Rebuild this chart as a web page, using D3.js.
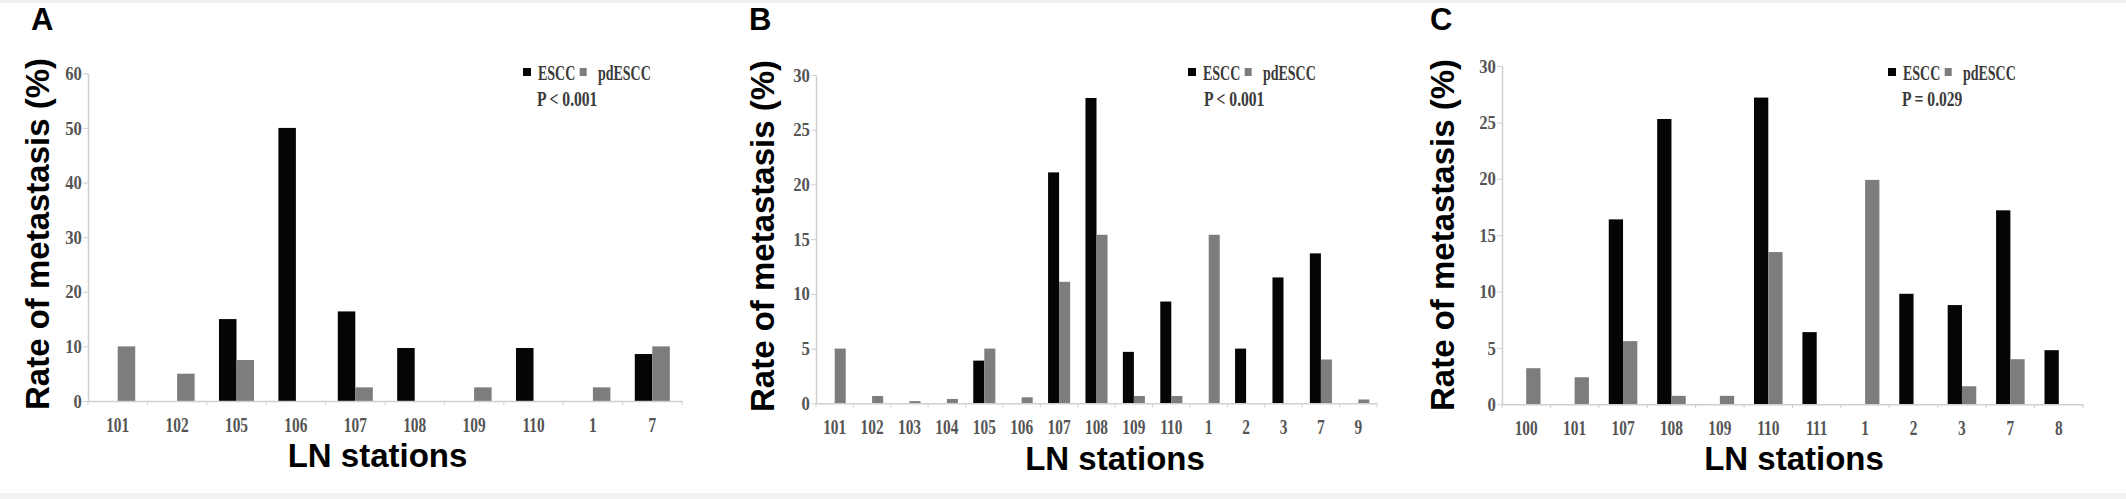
<!DOCTYPE html>
<html>
<head>
<meta charset="utf-8">
<script src="https://cdn.jsdelivr.net/npm/d3@7"></script>
<style>
  html, body { margin: 0; padding: 0; background: #ffffff; }
  svg { display: block; }
</style>
</head>
<body>
<svg id="chart" width="2126" height="499"></svg>
<script>
// ---------------- DATA ----------------
const seriesNames = ["ESCC", "pdESCC"];

const catsA = ["101","102","105","106","107","108","109","110","1","7"];
const escccA = [0, 0, 15, 50, 16.4, 9.7, 0, 9.7, 0, 8.6];
const pdA    = [10, 5, 7.5, 0, 2.5, 0, 2.5, 0, 2.5, 10];
const yTicksA = [0, 10, 20, 30, 40, 50, 60];
const pLabelA = "P < 0.001";

const catsB = ["101","102","103","104","105","106","107","108","109","110","1","2","3","7","9"];
const escccB = [0, 0, 0, 0, 3.9, 0, 21.1, 27.9, 4.7, 9.3, 0, 5, 11.5, 13.7, 0];
const pdB    = [5, 0.67, 0.2, 0.4, 5, 0.55, 11.1, 15.4, 0.67, 0.67, 15.4, 0, 0, 4, 0.35];
const yTicksB = [0, 5, 10, 15, 20, 25, 30];
const pLabelB = "P < 0.001";

const catsC = ["100","101","107","108","109","110","111","1","2","3","7","8"];
const escccC = [0, 0, 16.4, 25.3, 0, 27.2, 6.4, 0, 9.8, 8.8, 17.2, 4.8];
const pdC    = [3.2, 2.4, 5.6, 0.75, 0.75, 13.5, 0, 19.9, 0, 1.6, 4, 0];
const yTicksC = [0, 5, 10, 15, 20, 25, 30];
const pLabelC = "P = 0.029";

const xTitle = "LN stations";
const yTitle = "Rate of metastasis (%)";

// ---------------- LAYOUT ----------------
const panels = [
  { letter: "A", cats: catsA, esc: escccA, pd: pdA, ticks: yTicksA, p: pLabelA,
    x0: 88, x1: 682, y0: 401, yTop: 73.3,
    letterX: 31, yTitleX: 49, yTitleY: 234, xTitleX: 377.5, xTitleY: 467,
    legX: 523, legPX: 537 },
  { letter: "B", cats: catsB, esc: escccB, pd: pdB, ticks: yTicksB, p: pLabelB,
    x0: 816, x1: 1377, y0: 403.3, yTop: 75,
    letterX: 749, yTitleX: 773.5, yTitleY: 236, xTitleX: 1115, xTitleY: 470,
    legX: 1188, legPX: 1204 },
  { letter: "C", cats: catsC, esc: escccC, pd: pdC, ticks: yTicksC, p: pLabelC,
    x0: 1502, x1: 2083, y0: 404.3, yTop: 66,
    letterX: 1430, yTitleX: 1453.5, yTitleY: 235, xTitleX: 1794, xTitleY: 470,
    legX: 1888, legPX: 1902 }
];

const colors = { ESCC: "#050505", pdESCC: "#7d7d7d" };
const axisColor = "#cfcfcf";
const tickTextColor = "#555555";
const serif = "'Liberation Serif', 'Times New Roman', serif";
const sans = "'Liberation Sans', Arial, Helvetica, sans-serif";

const svg = d3.select("#chart");

// background and faint frame bands
svg.append("rect").attr("x", 0).attr("y", 0).attr("width", 2126).attr("height", 499).attr("fill", "#ffffff");
svg.append("rect").attr("x", 0).attr("y", 0).attr("width", 2126).attr("height", 3).attr("fill", "#f1f1f1");
svg.append("rect").attr("x", 0).attr("y", 493).attr("width", 2126).attr("height", 6).attr("fill", "#f2f2f2");

panels.forEach(P => {
  const g = svg.append("g");

  const x = d3.scaleBand().domain(P.cats).range([P.x0, P.x1]).paddingInner(0).paddingOuter(0);
  const bw = x.bandwidth();
  const xs = d3.scaleBand().domain(seriesNames).range([0.205 * bw, 0.795 * bw]).padding(0);
  const y = d3.scaleLinear().domain([0, d3.max(P.ticks)]).range([P.y0, P.yTop]);

  // bars
  const rows = P.cats.map((c, i) => ({ cat: c, ESCC: P.esc[i], pdESCC: P.pd[i] }));
  const grp = g.selectAll("g.cat").data(rows).join("g")
    .attr("transform", d => `translate(${x(d.cat)},0)`);
  grp.selectAll("rect").data(d => seriesNames.map(s => ({ s, v: d[s] })).filter(e => e.v > 0))
    .join("rect")
    .attr("x", e => xs(e.s))
    .attr("width", xs.bandwidth())
    .attr("y", e => y(e.v))
    .attr("height", e => y(0) - y(e.v))
    .attr("fill", e => colors[e.s]);

  // y axis
  const yAxis = d3.axisLeft(y).tickValues(P.ticks).tickSize(5).tickSizeOuter(0).tickPadding(2);
  const ya = g.append("g").attr("transform", `translate(${P.x0},0)`).call(yAxis);
  ya.select(".domain").attr("stroke", axisColor).attr("stroke-width", 1.5);
  ya.selectAll(".tick line").attr("stroke", axisColor).attr("stroke-width", 1);
  ya.selectAll(".tick text")
    .attr("fill", tickTextColor)
    .style("font-family", serif).style("font-size", "19px").style("font-weight", "bold")
    .attr("transform", "scale(0.88,1)");

  // x axis
  const xAxis = d3.axisBottom(x).tickSize(0).tickSizeOuter(0).tickPadding(15.5);
  const xa = g.append("g").attr("transform", `translate(0,${P.y0})`).call(xAxis);
  xa.select(".domain").attr("stroke", axisColor).attr("stroke-width", 1.5);
  xa.selectAll(".tick text")
    .attr("fill", tickTextColor)
    .style("font-family", serif).style("font-size", "22px").style("font-weight", "bold")
    .attr("transform", "scale(0.7,1)");

  // boundary tick marks on x axis
  const bounds = P.cats.map(c => x(c)).concat([x.range()[1]]);
  g.selectAll("line.bt").data(bounds).join("line")
    .attr("x1", d => d).attr("x2", d => d)
    .attr("y1", P.y0).attr("y2", P.y0 + 4)
    .attr("stroke", axisColor).attr("stroke-width", 1);

  // legend
  const leg = g.append("g").attr("transform", `translate(${P.legX},0) scale(0.7,1)`);
  leg.append("rect").attr("x", 0).attr("y", 68).attr("width", 11.4).attr("height", 8).attr("fill", colors.ESCC);
  leg.append("text").attr("x", 21.4).attr("y", 80).text(seriesNames[0]);
  leg.append("rect").attr("x", 81).attr("y", 68).attr("width", 10).attr("height", 8).attr("fill", colors.pdESCC);
  leg.append("text").attr("x", 107).attr("y", 80).text(seriesNames[1]);
  leg.selectAll("text")
    .attr("fill", "#3a3a3a")
    .style("font-family", serif).style("font-size", "20px").style("font-weight", "bold");

  const pg = g.append("g").attr("transform", `translate(${P.legPX},0) scale(0.78,1)`);
  pg.append("text").attr("x", 0).attr("y", 106).text(P.p)
    .attr("fill", "#3a3a3a")
    .style("font-family", serif).style("font-size", "20px").style("font-weight", "bold");

  // panel letter
  g.append("text").attr("x", P.letterX).attr("y", 30).text(P.letter)
    .style("font-family", sans).style("font-size", "31px").style("font-weight", "bold")
    .attr("fill", "#000");

  // axis titles
  g.append("text")
    .attr("transform", `translate(${P.yTitleX},${P.yTitleY}) rotate(-90)`)
    .attr("text-anchor", "middle")
    .text(yTitle)
    .style("font-family", sans).style("font-size", "33px").style("font-weight", "bold")
    .attr("fill", "#000");

  g.append("text")
    .attr("x", P.xTitleX).attr("y", P.xTitleY)
    .attr("text-anchor", "middle")
    .text(xTitle)
    .style("font-family", sans).style("font-size", "33px").style("font-weight", "bold")
    .attr("fill", "#000");
});
</script>
</body>
</html>
